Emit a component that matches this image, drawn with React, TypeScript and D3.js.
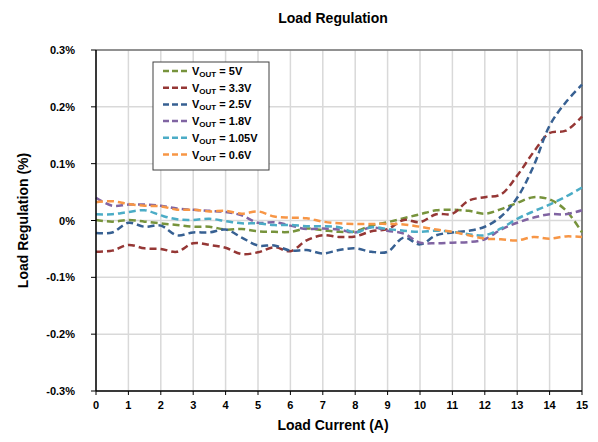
import React from "react";
import * as d3 from "d3";

const current = [0,0.5,1,1.5,2,2.5,3,3.5,4,4.5,5,5.5,6,6.5,7,7.5,8,8.5,9,9.5,10,10.5,11,11.5,12,12.5,13,13.5,14,14.5,15];

const v5 = [0.001,-0.002,0.001,-0.002,-0.005,-0.008,-0.011,-0.011,-0.016,-0.015,-0.019,-0.020,-0.020,-0.014,-0.017,-0.020,-0.019,-0.009,-0.003,0.004,0.011,0.018,0.019,0.017,0.012,0.020,0.031,0.041,0.037,0.018,-0.021];
const v33 = [-0.055,-0.053,-0.043,-0.049,-0.050,-0.055,-0.040,-0.043,-0.048,-0.059,-0.056,-0.047,-0.054,-0.035,-0.026,-0.029,-0.028,-0.019,-0.015,0.001,-0.003,0.011,0.012,0.035,0.041,0.046,0.079,0.120,0.154,0.158,0.183];
const v25 = [-0.022,-0.021,-0.004,-0.011,-0.009,-0.026,-0.021,-0.021,-0.016,-0.030,-0.044,-0.044,-0.053,-0.052,-0.058,-0.052,-0.049,-0.055,-0.055,-0.030,-0.042,-0.026,-0.021,-0.018,-0.011,0.007,0.040,0.095,0.167,0.208,0.239];
const v18 = [0.040,0.026,0.028,0.028,0.026,0.021,0.019,0.017,0.015,0.009,-0.004,-0.003,-0.009,-0.015,-0.014,-0.016,-0.021,-0.012,-0.018,-0.023,-0.039,-0.040,-0.039,-0.038,-0.033,-0.016,-0.004,0.005,0.011,0.011,0.018];
const v105 = [0.011,0.011,0.015,0.018,0.009,0.002,0.001,0.003,-0.001,-0.005,-0.005,-0.008,-0.008,-0.010,-0.010,-0.012,-0.021,-0.012,-0.015,-0.018,-0.020,-0.018,-0.020,-0.024,-0.026,-0.014,0.003,0.016,0.028,0.042,0.058];
const v06 = [0.032,0.034,0.029,0.026,0.025,0.019,0.019,0.016,0.017,0.012,0.016,0.007,0.005,0.004,-0.002,-0.005,-0.006,-0.006,-0.006,-0.007,-0.011,-0.016,-0.020,-0.026,-0.032,-0.033,-0.035,-0.029,-0.032,-0.028,-0.029];

const seriesNames = ["5V", "3.3V", "2.5V", "1.8V", "1.05V", "0.6V"];
const seriesValues = [v5, v33, v25, v18, v105, v06];
const seriesColors = ["#77933C", "#953735", "#376092", "#8064A2", "#4BACC6", "#F79646"];

const xTicks = d3.range(0, 16, 1);
const yTicks = [-0.3, -0.2, -0.1, 0, 0.1, 0.2, 0.3];
const yTickLabels = ["-0.3%", "-0.2%", "-0.1%", "0%", "0.1%", "0.2%", "0.3%"];

const W = 598, H = 442;
const L = 96, R = 582, T = 50, B = 391;

export default function App() {
  const x = d3.scaleLinear().domain([0, 15]).range([L, R]);
  const y = d3.scaleLinear().domain([-0.3, 0.3]).range([B, T]);
  const line = d3.line<number>()
    .x((_, i) => x(current[i]))
    .y((d) => y(d))
    .curve(d3.curveCatmullRom.alpha(0.5));
  const font = "'Liberation Sans', Arial, sans-serif";

  return (
    <svg width={W} height={H} style={{ position: "absolute", left: 0, top: 0 }} fontFamily={font}>
      <rect x={0} y={0} width={W} height={H} fill="#fff" />
      <text x={333} y={23} textAnchor="middle" fontSize={14} fontWeight="bold" fill="#000">Load Regulation</text>
      {/* grid */}
      {xTicks.map((t) => (
        <line key={"gx" + t} x1={x(t)} x2={x(t)} y1={T} y2={B} stroke="#d9d9d9" strokeWidth={1.5} />
      ))}
      {yTicks.map((t) => (
        <line key={"gy" + t} x1={L} x2={R} y1={y(t)} y2={y(t)} stroke="#d9d9d9" strokeWidth={1.5} />
      ))}
      {/* frame */}
      <line x1={L} x2={R} y1={T} y2={T} stroke="#404040" strokeWidth={1.2} />
      <line x1={R} x2={R} y1={T} y2={B} stroke="#404040" strokeWidth={1.2} />
      {/* series */}
      {seriesValues.map((vals, i) => (
        <path key={"s" + i} d={line(vals) || ""} fill="none" stroke={seriesColors[i]} strokeWidth={2.5} strokeDasharray="7,4" />
      ))}
      {/* axes */}
      <line x1={L} x2={L} y1={T} y2={B} stroke="#000" strokeWidth={1.5} />
      <line x1={L} x2={R} y1={B} y2={B} stroke="#000" strokeWidth={1.5} />
      {yTicks.map((t, i) => (
        <g key={"yt" + t}>
          <line x1={L - 5} x2={L} y1={y(t)} y2={y(t)} stroke="#000" strokeWidth={1} />
          <text x={75} y={y(t) + 4} textAnchor="end" fontSize={11} fontWeight="bold" fill="#000">{yTickLabels[i]}</text>
        </g>
      ))}
      {xTicks.map((t) => (
        <g key={"xt" + t}>
          <line x1={x(t)} x2={x(t)} y1={B} y2={B + 4} stroke="#000" strokeWidth={1} />
          <text x={x(t)} y={B + 18} textAnchor="middle" fontSize={11} fontWeight="bold" fill="#000">{t}</text>
        </g>
      ))}
      <text x={333} y={430} textAnchor="middle" fontSize={14} fontWeight="bold" fill="#000">Load Current (A)</text>
      <text transform={`translate(28,${(T + B) / 2}) rotate(-90)`} textAnchor="middle" fontSize={14} fontWeight="bold" fill="#000">Load Regulation (%)</text>
      {/* legend */}
      <rect x={153} y={62} width={116} height={108} fill="#fff" stroke="#404040" strokeWidth={1} />
      {seriesNames.map((n, i) => {
        const ly = 71 + i * 16.7;
        return (
          <g key={"lg" + i}>
            <line x1={163} x2={187} y1={ly} y2={ly} stroke={seriesColors[i]} strokeWidth={2.5} strokeDasharray="6,3" />
            <text x={192} y={ly + 4} fontSize={11} fontWeight="bold" fill="#000">
              V<tspan fontSize={8} dy={2}>OUT</tspan><tspan dy={-2}>{" = " + n}</tspan>
            </text>
          </g>
        );
      })}
    </svg>
  );
}
